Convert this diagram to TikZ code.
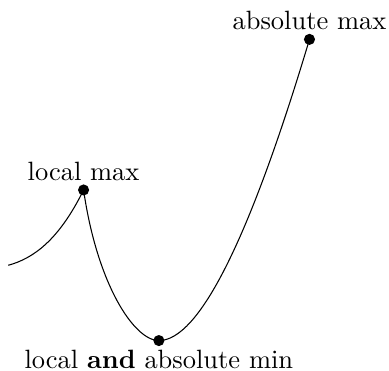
\documentclass[tikz,border=0pt]{standalone}
\usepackage{tikz}

\begin{document}
\begin{tikzpicture}[
    dot/.style={circle, fill=black, inner sep=0pt, minimum size=4.2pt},
    tag/.style={inner sep=0.3333em}
  ]
    \useasboundingbox (-0.11,-1.404) rectangle (5.056,3.523);

    % Points
    \coordinate (start) at (0,0);
    \coordinate (locmax) at (1,1);
    \coordinate (absmin) at (2,-1);
    \coordinate (absmax) at (4,3);

    % Curve
    \draw (start) .. controls (0.33,0.09) and (0.67,0.33) .. (locmax)
          .. controls (1.18,-0.25) and (1.67,-1) .. (absmin)
          .. controls (2.53,-1) and (3.2,0.33) .. (absmax);

    % Dots
    \node[dot] (locmaxdot) at (locmax) {};
    \node[dot] (absmindot) at (absmin) {};
    \node[dot] (absmaxdot) at (absmax) {};

    % Labels
    \node[tag, above] (locmaxlabel) at (locmax) {local max};
    \node[tag, below] (absminlabel) at (absmin) {local \textbf{and} absolute min};
    \node[tag, above] (absmaxlabel) at (absmax) {absolute max};

  \end{tikzpicture}
\end{document}
